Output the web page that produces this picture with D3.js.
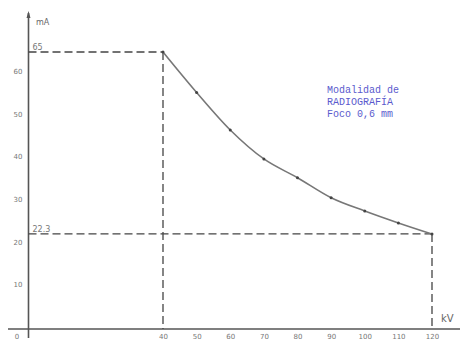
<!DOCTYPE html>
<html><head><meta charset="utf-8">
<script src="https://cdn.jsdelivr.net/npm/d3@7"></script>
<style>body{margin:0;background:#fff}svg{display:block}</style>
</head><body>
<script>
const kV = [40, 50, 60, 70, 80, 90, 100, 110, 120];
const mA = [65, 55.5, 46.7, 39.9, 35.5, 30.8, 27.7, 24.9, 22.3];
const xTicks = [0, 40, 50, 60, 70, 80, 90, 100, 110, 120];
const yTicks = [10, 20, 30, 40, 50, 60];
const infoLines = ["Modalidad de", "RADIOGRAFÍA", "Foco 0,6 mm"];
const refLabels = [{v: 65, t: "65"}, {v: 22.3, t: "22.3"}];

const W = 462, H = 343;
const svg = d3.select("body").append("svg").attr("width", W).attr("height", H);
const x = d3.scaleLinear().domain([0, 120]).range([28.5, 432]);
const y = d3.scaleLinear().domain([0, 65]).range([329, 52]);

const axisCol = "#555", labCol = "#777";

// axes lines
svg.append("line").attr("x1", 8).attr("x2", 460).attr("y1", y(0)).attr("y2", y(0))
  .attr("stroke", axisCol).attr("stroke-width", 1.6);
svg.append("line").attr("x1", x(0)).attr("x2", x(0)).attr("y1", 338).attr("y2", 13)
  .attr("stroke", axisCol).attr("stroke-width", 1.6);
svg.append("path").attr("d", `M${x(0)-2},${18} L${x(0)},${11} L${x(0)+2},${18} Z`).attr("fill", axisCol);

// tick labels via axes
const gx = svg.append("g").attr("transform", `translate(0,${y(0)})`)
  .call(d3.axisBottom(x).tickValues(xTicks).tickSize(0).tickPadding(5));
gx.select(".domain").remove();
gx.selectAll("text").attr("fill", labCol).style("font", "7px 'DejaVu Sans'")
  .attr("dx", d => d === 0 ? -12 : 0);

const gy = svg.append("g").attr("transform", `translate(${x(0)},0)`)
  .call(d3.axisLeft(y).tickValues(yTicks).tickSize(0).tickPadding(6));
gy.select(".domain").remove();
gy.selectAll("text").attr("fill", labCol).style("font", "7px 'DejaVu Sans'").attr("dy", "0.05em");

// dashed guide lines
const first = {k: kV[0], m: mA[0]}, last = {k: kV[kV.length-1], m: mA[mA.length-1]};
const dash = "8,4";
[[x(0), y(first.m), x(first.k), y(first.m)], [x(first.k), y(first.m), x(first.k), y(0)],
 [x(0), y(last.m), x(last.k), y(last.m)], [x(last.k), y(last.m), x(last.k), y(0)]]
 .forEach(l => svg.append("line").attr("x1", l[0]).attr("y1", l[1]).attr("x2", l[2]).attr("y2", l[3])
   .attr("stroke", "#444").attr("stroke-width", 1.3).attr("stroke-dasharray", dash));

// curve
const pts = kV.map((k, i) => [k, mA[i]]);
svg.append("path").datum(pts)
  .attr("d", d3.line().x(d => x(d[0])).y(d => y(d[1])).curve(d3.curveMonotoneX))
  .attr("fill", "none").attr("stroke", "#777").attr("stroke-width", 1.6);
svg.selectAll("circle.p").data(pts).enter().append("circle")
  .attr("cx", d => x(d[0])).attr("cy", d => y(d[1])).attr("r", 1.5).attr("fill", "#444");

// labels
refLabels.forEach(r => svg.append("text").attr("x", x(0) + 4).attr("y", y(r.v) - 2)
  .attr("fill", labCol).style("font", "8px 'DejaVu Sans'").text(r.t));
svg.append("text").attr("x", 36).attr("y", 25).attr("fill", "#666")
  .style("font", "8px 'DejaVu Sans'").text("mA");
svg.append("text").attr("x", 441).attr("y", 322).attr("fill", "#666")
  .style("font", "10px 'DejaVu Sans'").text("kV");

// info text
svg.append("g").selectAll("text").data(infoLines).enter().append("text")
  .attr("x", 327).attr("y", (d, i) => 93 + i * 12)
  .attr("fill", "#5a5acd").style("font", "10px 'Liberation Mono'").text(d => d);
</script>
</body></html>
